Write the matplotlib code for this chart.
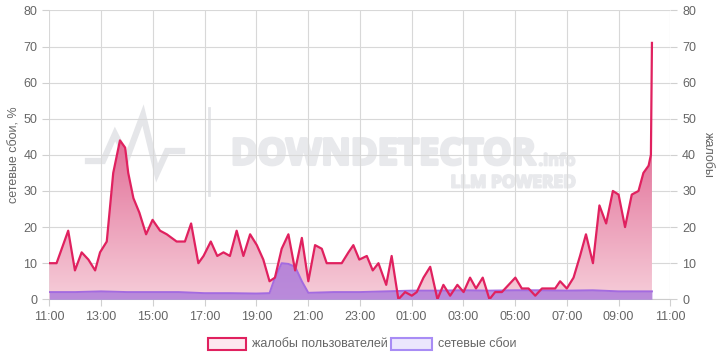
import matplotlib
matplotlib.use("Agg")
import matplotlib.pyplot as plt
import matplotlib.patheffects as pe
import numpy as np
from matplotlib.patches import Rectangle
from matplotlib.colors import LinearSegmentedColormap

plt.rcParams["font.family"] = ["Liberation Sans", "DejaVu Sans"]

# hours since 11:00
complaint_hours = [0.00, 0.28, 0.73, 0.99, 1.25, 1.51, 1.77, 1.96, 2.22, 2.47, 2.73, 2.93, 3.05, 3.25,
                   3.48, 3.74, 3.99, 4.28, 4.54, 4.92, 5.24, 5.48, 5.76, 5.96, 6.24, 6.49, 6.73, 6.98,
                   7.24, 7.50, 7.76, 8.02, 8.27, 8.51, 8.72, 8.98, 9.24, 9.50, 9.76, 10.01, 10.27, 10.53,
                   10.72, 10.98, 11.30, 11.56, 11.75, 11.98, 12.27, 12.50, 12.72, 13.02, 13.23, 13.49,
                   13.75, 14.01, 14.20, 14.46, 14.72, 15.00, 15.23, 15.49, 15.77, 16.01, 16.26, 16.49,
                   16.75, 17.01, 17.23, 17.49, 17.75, 18.01, 18.26, 18.52, 18.78, 19.04, 19.29, 19.55,
                   19.74, 20.00, 20.26, 20.51, 20.74, 21.01, 21.26, 21.52, 21.78, 22.00, 22.25, 22.51,
                   22.77, 22.96, 23.16, 23.25, 23.29]
complaints = [10, 10, 19, 8, 13, 11, 8, 13, 16, 35, 44, 42, 35, 28,
              24, 18, 22, 19, 18, 16, 16, 21, 10, 12, 16, 12, 13, 12,
              19, 12, 18, 15, 11, 5, 6, 14, 18, 8, 17, 5, 15, 14,
              10, 10, 10, 13, 15, 11, 12, 8, 10, 4, 12, 0,
              2, 1, 2, 6, 9, 0, 4, 1, 4, 2, 6, 3,
              6, 0, 2, 2, 4, 6, 3, 3, 1, 3, 3, 3,
              5, 3, 6, 12, 18, 10, 26, 21, 30, 29, 20, 29,
              30, 35, 37, 40, 71]

network_hours = [0.0, 1.0, 2.0, 3.0, 4.0, 5.0, 6.0, 7.0, 8.0, 8.51, 8.72, 8.98, 9.24, 9.50, 9.76,
                 10.01, 11.0, 12.0, 13.0, 14.0, 15.0, 16.0, 17.0, 18.0, 19.0, 20.0, 21.0, 22.0, 23.29]
network = [2.0, 2.0, 2.2, 2.0, 2.0, 2.0, 1.7, 1.7, 1.6, 1.7, 6.0, 10.0, 9.8, 9.0, 5.0,
           1.8, 2.0, 2.0, 2.2, 2.4, 2.4, 2.5, 2.4, 2.5, 2.5, 2.4, 2.5, 2.2, 2.2]

tick_labels = ["11:00", "13:00", "15:00", "17:00", "19:00", "21:00", "23:00",
               "01:00", "03:00", "05:00", "07:00", "09:00", "11:00"]

line_c = "#e0215f"
net_c = "#a36be0"
txt_c = "#666666"
wm_c = "#e8e9ec"

W, H = 720, 360
fig = plt.figure(figsize=(7.2, 3.6), dpi=100)
ax = fig.add_axes([0.0685, 0.1686, 0.8625, 0.8025])
ax2 = ax.twinx()
ax.patch.set_alpha(0)
ax2.patch.set_alpha(0)


def fpx(x, y):
    return (x / W, 1 - y / H)


# watermark (figure-pixel placement, behind the axes)
renderer = fig.canvas.get_renderer()


def fit_text(x0, x1, ybase, s, size0, stroke):
    t = fig.text(x0 / W, 1 - ybase / H, s, fontsize=size0, fontweight="bold", color=wm_c,
                 family=["Open Sans", "DejaVu Sans"], ha="left", va="baseline", zorder=-1)
    w = t.get_window_extent(renderer).width
    t.set_fontsize(size0 * (x1 - x0 - stroke * 0.7) / w)
    t.set_x((x0 + stroke * 0.35) / W)
    t.set_path_effects([pe.withStroke(linewidth=stroke, foreground=wm_c)])
    return t


fit_text(230, 537, 164.5, "DOWNDETECTOR", 24, 2.2)
fit_text(538, 576, 165.5, ".info", 11, 1.2)
fit_text(450, 576, 187.5, "LLM POWERED", 12, 1.4)
lx = [88, 103, 115, 127, 143, 157, 167, 182]
ly = [161, 161, 134, 158, 115, 173, 151, 151]
fig.lines.append(plt.Line2D([v / W for v in lx], [1 - v / H for v in ly], transform=fig.transFigure,
                            color="#e5e6e9", lw=4.5, zorder=-1, solid_joinstyle="miter"))
fig.lines.append(plt.Line2D([209 / W, 209 / W], [1 - 108 / H, 1 - 195 / H], transform=fig.transFigure,
                            color="#e5e6e9", lw=2, zorder=-1))

# complaints gradient fill
x = np.array(complaint_hours)
y = np.array(complaints)
poly = ax2.fill_between(x, 0, y, color="none", lw=0)
cmap = LinearSegmentedColormap.from_list("g", [(0, "#f6cdd9"), (0.6, "#e27199"), (1, "#d9507f")])
grad = np.linspace(0, 1, 256).reshape(-1, 1)
im = ax2.imshow(grad, extent=[0, 23.29, 0, 72], origin="lower", aspect="auto", cmap=cmap,
                zorder=1)
im.set_clip_path(poly.get_paths()[0], transform=ax2.transData)
ax2.plot(x, y, color=line_c, lw=1.6, zorder=3)

# network
ax2.fill_between(network_hours, 0, network, color="#a574dc", alpha=0.75, lw=0, zorder=2)
ax2.plot(network_hours, network, color=net_c, lw=1.4, zorder=2.5)

for a in (ax, ax2):
    a.set_xlim(0, 24)
    a.set_ylim(0, 80)
    a.set_yticks(range(0, 81, 10))
    for s in a.spines.values():
        s.set_visible(False)
    a.tick_params(colors=txt_c, labelsize=9, length=5, width=0.8)
    a.tick_params(axis="both", color="#d0d0d0")
ax.set_xticks(range(0, 25, 2))
ax.set_xticklabels(tick_labels)
ax.grid(True, color="#d8d8d8", lw=0.8)
ax.set_axisbelow(True)
ax.set_ylabel("сетевые сбои, %", color=txt_c, fontsize=9, labelpad=2)
ax2.set_ylabel("жалобы", color=txt_c, fontsize=9, rotation=270, labelpad=13)
ax.spines["bottom"].set_visible(True)
ax.spines["bottom"].set_color("#cccccc")

# legend
fig.patches.append(Rectangle(fpx(208, 350), 38 / W, 12 / H, transform=fig.transFigure,
                             facecolor="#fde8ef", edgecolor=line_c, lw=1.5))
fig.text(252 / W, 1 - 344 / H, "жалобы пользователей", color=txt_c, fontsize=9, va="center")
fig.patches.append(Rectangle(fpx(391, 350), 41 / W, 12 / H, transform=fig.transFigure,
                             facecolor="#ebe6fd", edgecolor="#a88cf5", lw=1.5))
fig.text(438 / W, 1 - 344 / H, "сетевые сбои", color=txt_c, fontsize=9, va="center")

fig.savefig("out.png", dpi=100)
